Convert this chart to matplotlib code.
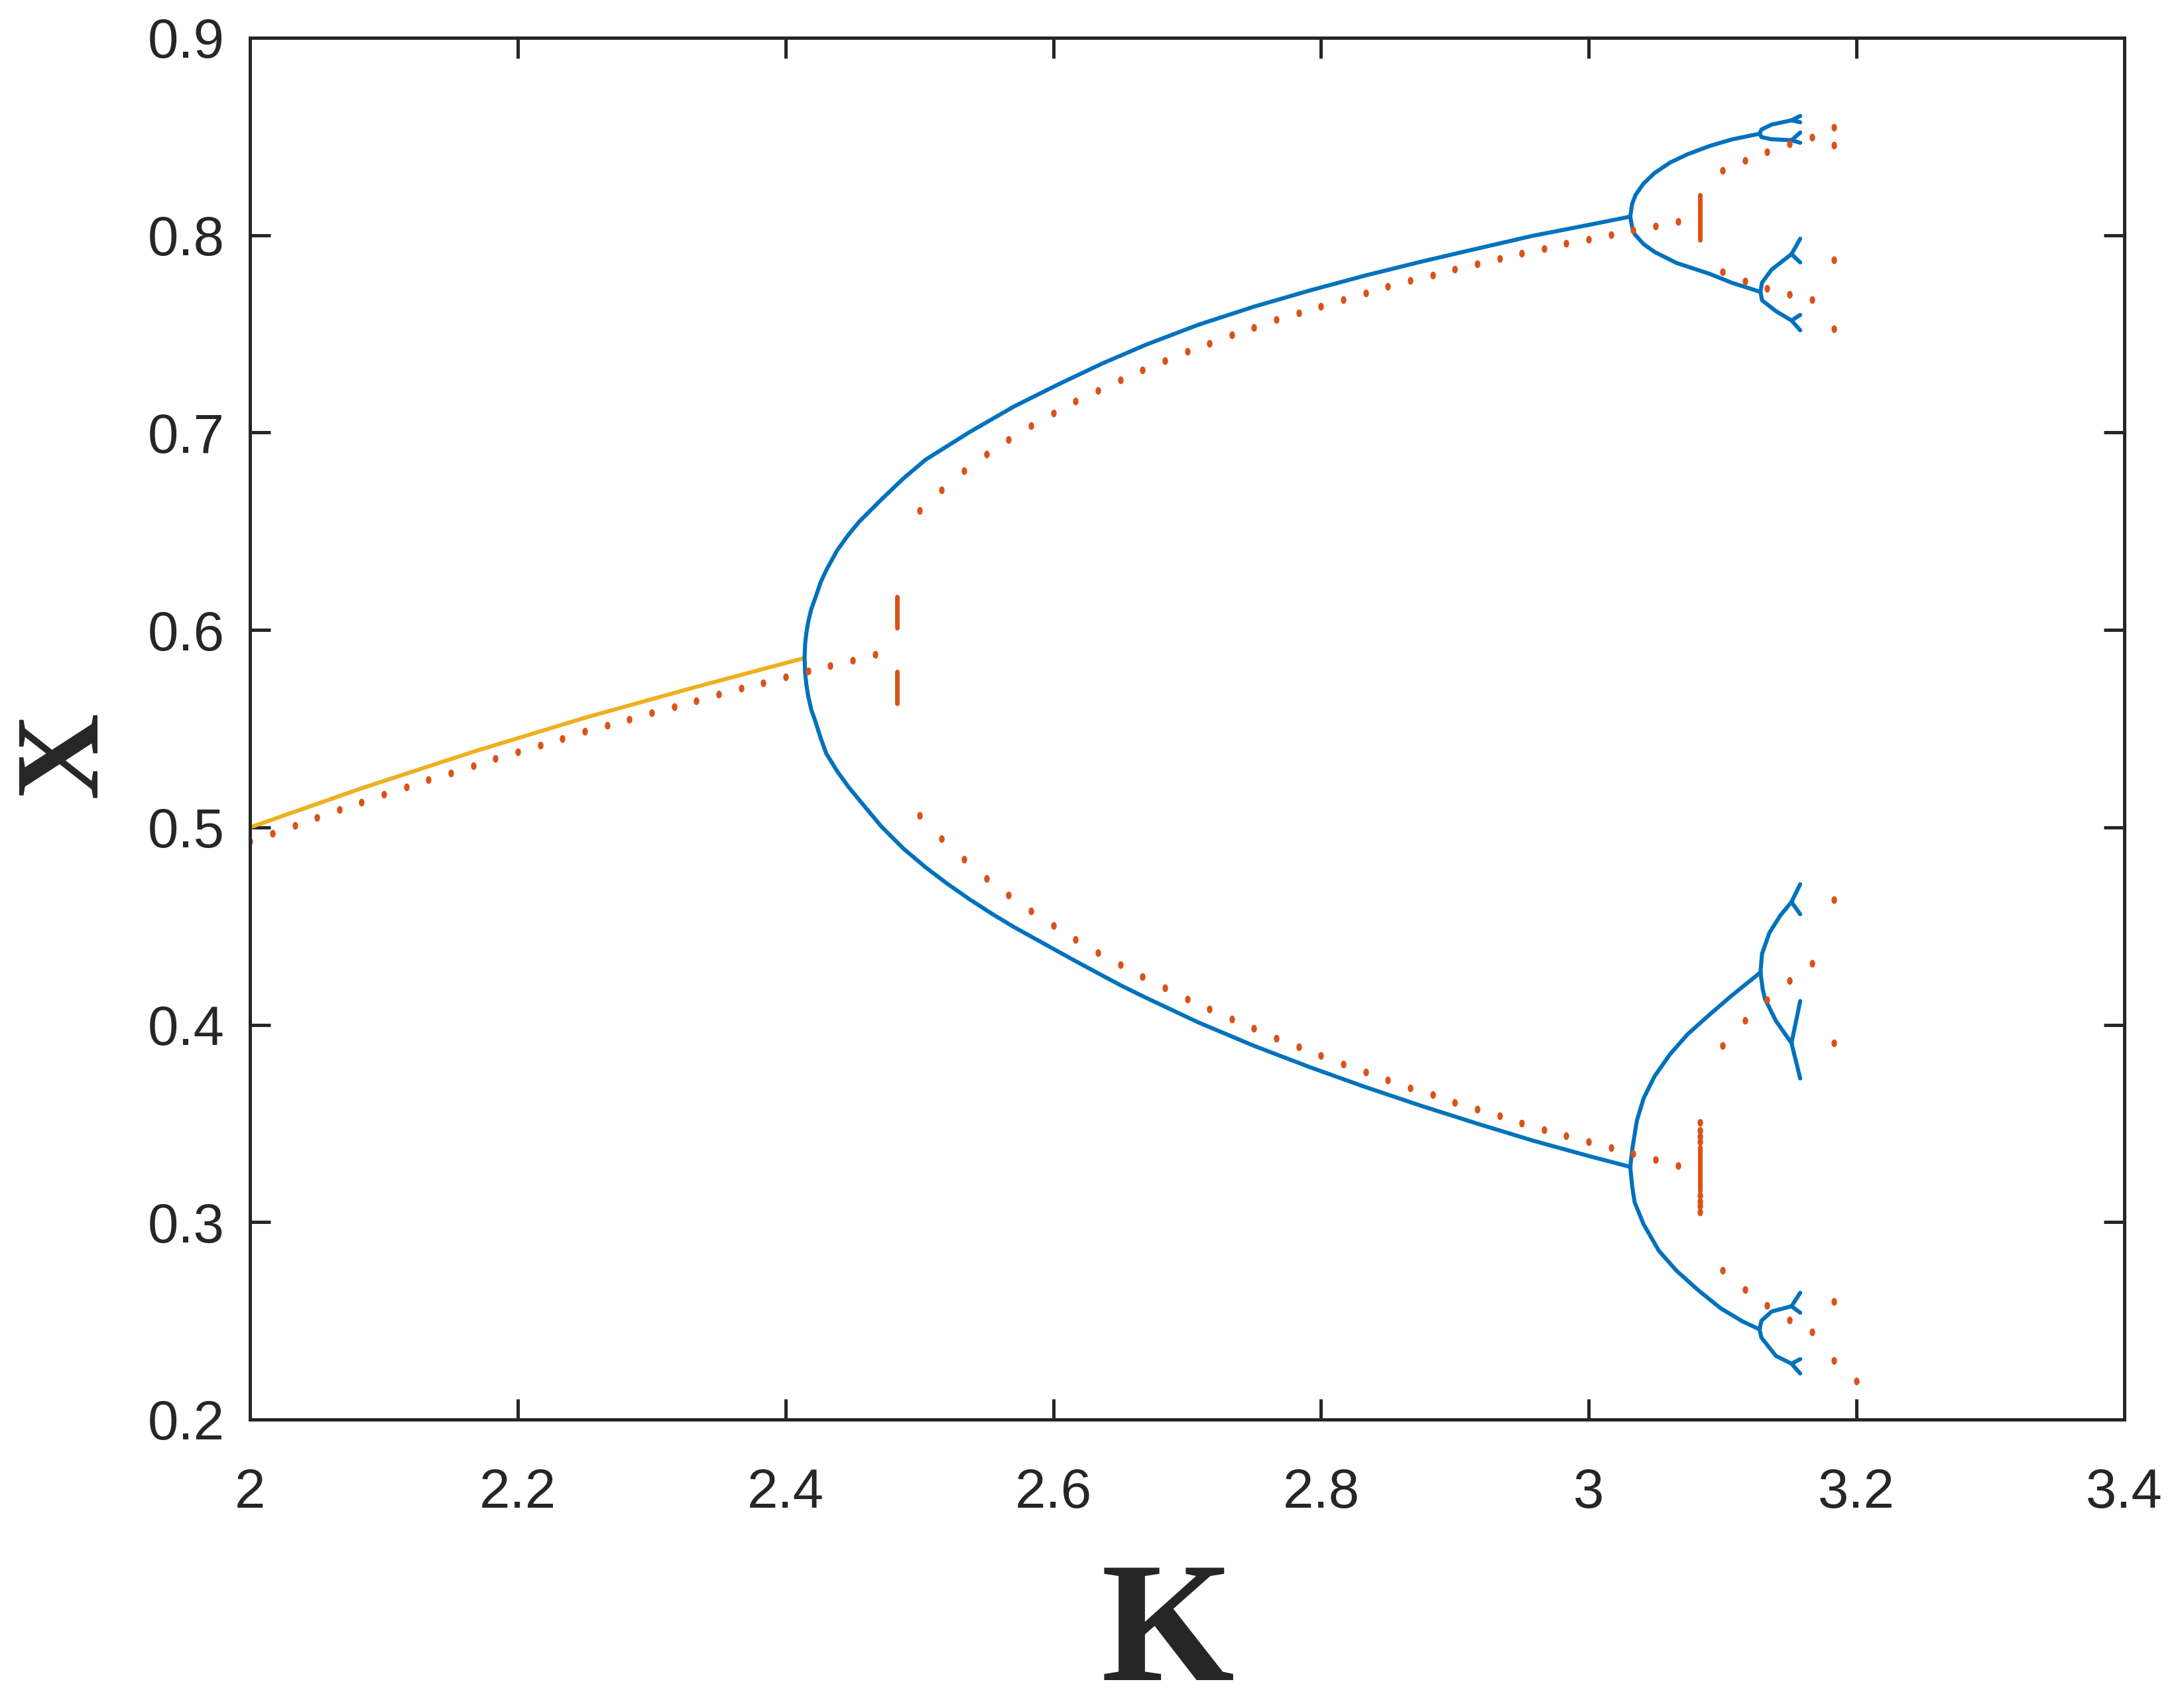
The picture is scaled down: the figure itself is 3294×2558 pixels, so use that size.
import matplotlib.pyplot as plt
from matplotlib.path import Path
from matplotlib.transforms import Affine2D

blue = '#0072BD'
yellow = '#EDB120'
red = '#D95319'
ink = '#262626'

# stable fixed point (yellow)
p1_k = [2.0, 2.0833, 2.1667, 2.25, 2.3333, 2.4142]
p1_x = [0.5000, 0.5198, 0.5383, 0.5555, 0.5712, 0.5858]

# period-2 branch, traced from the upper end round the vertex to the lower end
p2_k = [3.031, 3.0, 2.9583, 2.9167, 2.875, 2.8333, 2.7917, 2.75, 2.7083, 2.6696,
        2.6366, 2.6037, 2.5706, 2.5376, 2.5047, 2.4881, 2.4716, 2.4551, 2.4469, 2.4386,
        2.4304, 2.4262, 2.4221, 2.4192, 2.4170, 2.4155, 2.4146, 2.4142,
        2.4146, 2.4155, 2.4170, 2.4192, 2.4221, 2.4262, 2.4304, 2.4386, 2.4469, 2.4551,
        2.4716, 2.4881, 2.5047, 2.5211, 2.5376, 2.5542, 2.5706, 2.5871, 2.6167, 2.65,
        2.6667, 2.7083, 2.75, 2.7917, 2.8333, 2.875, 2.9167, 2.9583, 3.0, 3.031]
p2_x = [0.8094, 0.8052, 0.7997, 0.7932, 0.7866, 0.7796, 0.7720, 0.7638, 0.7546, 0.7446,
        0.7350, 0.7244, 0.7132, 0.7003, 0.6863, 0.6768, 0.6661, 0.6549, 0.6482, 0.6404,
        0.6303, 0.6241, 0.6160, 0.6106, 0.6044, 0.5984, 0.5928, 0.5858,
        0.5784, 0.5725, 0.5662, 0.5596, 0.5540, 0.5453, 0.5374, 0.5284, 0.5206, 0.5138,
        0.5004, 0.4892, 0.4797, 0.4713, 0.4635, 0.4562, 0.4495, 0.4433, 0.4322, 0.4201,
        0.4145, 0.4012, 0.3893, 0.3785, 0.3684, 0.3589, 0.3499, 0.3413, 0.3335, 0.3280]

# period-4 branches
p4a_k = [3.1277, 3.1069, 3.0904, 3.0739, 3.0608, 3.0492, 3.041, 3.0351, 3.0325, 3.031,
         3.0325, 3.0343, 3.041, 3.0492, 3.0657, 3.0904, 3.1069, 3.1277]
p4a_x = [0.8514, 0.8485, 0.8452, 0.8410, 0.8368, 0.8315, 0.8262, 0.8205, 0.8160, 0.8094,
         0.8040, 0.8005, 0.7955, 0.7915, 0.7859, 0.7804, 0.7759, 0.7714]
p4b_k = [3.1283, 3.1069, 3.0904, 3.0739, 3.0608, 3.0492, 3.041, 3.036, 3.0328, 3.031,
         3.0325, 3.0343, 3.041, 3.0525, 3.0657, 3.0822, 3.0987, 3.1152, 3.1276]
p4b_x = [0.4265, 0.4148, 0.4052, 0.3952, 0.3851, 0.3739, 0.3627, 0.3515, 0.3381, 0.3280,
         0.3180, 0.3101, 0.2989, 0.2854, 0.2753, 0.2653, 0.2563, 0.2496, 0.2457]

# period-8 branches
p8_k = [[3.1515, 3.1365, 3.1290, 3.1277, 3.1290, 3.1365, 3.1515],
        [3.1515, 3.1367, 3.1295, 3.1283, 3.1295, 3.1399, 3.1515],
        [3.1515, 3.1433, 3.1350, 3.1295, 3.1283, 3.1300, 3.1317, 3.1399, 3.1515],
        [3.1515, 3.1366, 3.1290, 3.1276, 3.1290, 3.1399, 3.1515]]
p8_x = [[0.8582, 0.8560, 0.8535, 0.8514, 0.8497, 0.8486, 0.8481],
        [0.7904, 0.7826, 0.7760, 0.7714, 0.7670, 0.7615, 0.7568],
        [0.4622, 0.4555, 0.4466, 0.4360, 0.4265, 0.4180, 0.4131, 0.4019, 0.3907],
        [0.2574, 0.2547, 0.2500, 0.2457, 0.2415, 0.2322, 0.2283]]

# period-16 forks
p16_k = [3.158, 3.1515, 3.158]
p16_x = [[0.8604, 0.8582, 0.8572], [0.8520, 0.8481, 0.8468],
         [0.7982, 0.7904, 0.7862], [0.7596, 0.7568, 0.7518],
         [0.4712, 0.4622, 0.4560], [0.4120, 0.3907, 0.3728],
         [0.2642, 0.2574, 0.2541], [0.2306, 0.2283, 0.2233]]

# red sampled orbit points
red_p1_k = [2.0000, 2.0167, 2.0333, 2.0500, 2.0667, 2.0833, 2.1000, 2.1167, 2.1333, 2.1500,
            2.1667, 2.1833, 2.2000, 2.2167, 2.2333, 2.2500, 2.2667, 2.2833, 2.3000, 2.3167,
            2.3333, 2.3500, 2.3667, 2.3833, 2.4000, 2.4167, 2.4333, 2.4500, 2.4667]
red_p1_x = [0.4929, 0.4970, 0.5011, 0.5051, 0.5090, 0.5128, 0.5167, 0.5205, 0.5241, 0.5276,
            0.5313, 0.5348, 0.5384, 0.5417, 0.5451, 0.5485, 0.5517, 0.5548, 0.5581, 0.5612,
            0.5642, 0.5674, 0.5704, 0.5733, 0.5763, 0.5791, 0.5819, 0.5847, 0.5877]

red_p2_k = [2.5000, 2.5167, 2.5333, 2.5500, 2.5667, 2.5833, 2.6000, 2.6167, 2.6333, 2.6500,
            2.6667, 2.6833, 2.7000, 2.7167, 2.7333, 2.7500, 2.7667, 2.7833, 2.8000, 2.8167,
            2.8333, 2.8500, 2.8667, 2.8833, 2.9000, 2.9167, 2.9333, 2.9500, 2.9667, 2.9833,
            3.0000, 3.0167, 3.0333, 3.0500, 3.0667]
red_p2_hi = [0.6605, 0.6710, 0.6806, 0.6889, 0.6964, 0.7034, 0.7098, 0.7158, 0.7214, 0.7266,
             0.7317, 0.7364, 0.7410, 0.7452, 0.7494, 0.7532, 0.7571, 0.7607, 0.7641, 0.7674,
             0.7707, 0.7739, 0.7769, 0.7799, 0.7827, 0.7856, 0.7881, 0.7909, 0.7933, 0.7958,
             0.7980, 0.8003, 0.8025, 0.8046, 0.8069]
red_p2_lo = [0.5060, 0.4944, 0.4839, 0.4742, 0.4656, 0.4576, 0.4503, 0.4432, 0.4365, 0.4303,
             0.4243, 0.4186, 0.4131, 0.4080, 0.4029, 0.3981, 0.3933, 0.3888, 0.3844, 0.3802,
             0.3760, 0.3721, 0.3681, 0.3645, 0.3607, 0.3571, 0.3537, 0.3502, 0.3469, 0.3438,
             0.3408, 0.3376, 0.3346, 0.3316, 0.3287]

red_p4_k = [3.1000, 3.1167, 3.1333, 3.1500, 3.1667]
red_p4_x = [[0.8327, 0.8378, 0.8422, 0.8461, 0.8495],
            [0.7815, 0.7768, 0.7731, 0.7701, 0.7674],
            [0.3896, 0.4021, 0.4127, 0.4223, 0.4312],
            [0.2756, 0.2658, 0.2577, 0.2505, 0.2443]]

red_p8_k = 3.1833
red_p8_x = [0.8545, 0.8456, 0.7876, 0.7527, 0.4635, 0.3907, 0.2599, 0.2298]

red_end_k = [3.2]
red_end_x = [0.2196]

# transients that have not settled (vertical streaks)
burst_k = [2.4833, 2.4833, 3.0833, 3.0833]
burst_lo = [0.5629, 0.6012, 0.7976, 0.3160]
burst_hi = [0.5788, 0.6168, 0.8204, 0.3381]
burst_dot_k = 3.0833
burst_dot_x = [0.3504, 0.3466, 0.3435, 0.3406, 0.3134, 0.3106, 0.3081, 0.3050]

x_ticks = [2, 2.2, 2.4, 2.6, 2.8, 3, 3.2, 3.4]
x_labels = ['2', '2.2', '2.4', '2.6', '2.8', '3', '3.2', '3.4']
y_ticks = [0.2, 0.3, 0.4, 0.5, 0.6, 0.7, 0.8, 0.9]
y_labels = ['0.2', '0.3', '0.4', '0.5', '0.6', '0.7', '0.8', '0.9']

fig = plt.figure(figsize=(16.47, 12.79), dpi=200)
ax = fig.add_axes([0.11454, 0.16302, 0.85805, 0.81470])

lw = 2.2
ax.plot(p1_k, p1_x, color=yellow, lw=lw, solid_capstyle='butt')
ax.plot(p2_k, p2_x, color=blue, lw=lw)
ax.plot(p4a_k, p4a_x, color=blue, lw=lw)
ax.plot(p4b_k, p4b_x, color=blue, lw=lw)
for ks, xs in zip(p8_k, p8_x):
    ax.plot(ks, xs, color=blue, lw=lw)
for xs in p16_x:
    ax.plot(p16_k, xs, color=blue, lw=lw, solid_capstyle='round')

dot = Path.unit_circle().transformed(Affine2D().scale(0.72, 1.0))
mk = dict(linestyle='none', marker=dot, ms=4.2, color=red, mew=0)
ax.plot(red_p1_k, red_p1_x, **mk)
ax.plot(red_p2_k, red_p2_hi, **mk)
ax.plot(red_p2_k, red_p2_lo, **mk)
for xs in red_p4_x:
    ax.plot(red_p4_k, xs, **mk)
ax.plot([red_p8_k] * len(red_p8_x), red_p8_x, **mk)
ax.plot(red_end_k, red_end_x, **mk)
ax.plot([burst_dot_k] * len(burst_dot_x), burst_dot_x, **mk)
ax.vlines(burst_k, burst_lo, burst_hi, color=red, lw=2.5, capstyle='round')

ax.set_xlim(2, 3.4)
ax.set_ylim(0.2, 0.9)
ax.set_xticks(x_ticks)
ax.set_xticklabels(x_labels)
ax.set_yticks(y_ticks)
ax.set_yticklabels(y_labels)

for s in ax.spines.values():
    s.set_linewidth(1.8)
    s.set_color(ink)
ax.tick_params(direction='in', length=11, width=1.8, color=ink, labelcolor=ink,
               top=True, right=True, labelsize=30)
ax.tick_params(axis='x', pad=26)
ax.tick_params(axis='y', pad=14)
for lab in ax.get_xticklabels() + ax.get_yticklabels():
    lab.set_fontfamily('Liberation Sans')

ax.set_xlabel('K', fontsize=93, fontfamily='Liberation Serif', fontweight='bold', color=ink)
ax.xaxis.set_label_coords(0.4896, -0.1020)
ax.set_ylabel('X', fontsize=65, fontfamily='Liberation Serif', fontweight='bold', color=ink)
ax.yaxis.set_label_coords(-0.0687, 0.4815)

fig.savefig('out.png', dpi=200)
